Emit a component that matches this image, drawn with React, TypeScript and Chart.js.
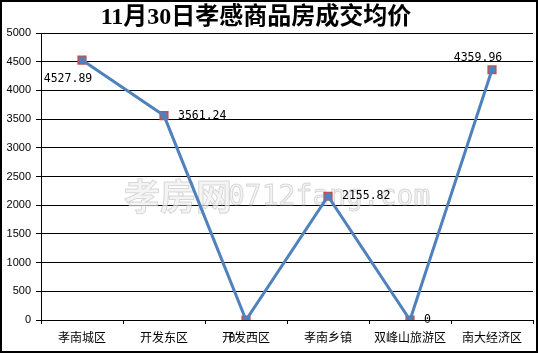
import React, { useEffect, useRef } from "react";
import { Chart, registerables } from "chart.js";

Chart.register(...registerables);

const categories = ["孝南城区", "开发东区", "开发西区", "孝南乡镇", "双峰山旅游区", "南大经济区"];
const prices = [4527.89, 3561.24, 0, 2155.82, 0, 4359.96];
const priceLabels = ["4527.89", "3561.24", "0", "2155.82", "0", "4359.96"];
const labelPlacement = ["below-left", "right", "below-left", "right", "right", "above-left"];
const titleText = "11月30日孝感商品房成交均价";

const overlayPlugin = {
  id: "overlay",
  beforeDatasetsDraw(chart: any) {
    const ctx = chart.ctx;
    ctx.save();
    ctx.textBaseline = "middle";
    ctx.textAlign = "left";
    ctx.font = "bold 36px 'Noto Sans CJK SC'";
    ctx.fillStyle = "rgba(240,240,240,0.7)";
    ctx.strokeStyle = "rgba(190,190,190,0.55)";
    ctx.lineWidth = 1;
    ctx.fillText("孝房网", 124, 196);
    ctx.strokeText("孝房网", 124, 196);
    ctx.font = "28px 'DejaVu Sans Mono'";
    ctx.fillText("0712fang.com", 228, 198);
    ctx.strokeText("0712fang.com", 228, 198);
    ctx.restore();
  },
  afterDraw(chart: any) {
    const ctx = chart.ctx;
    const xs = chart.scales.x;
    const ys = chart.scales.y;
    ctx.save();
    ctx.font = "11.5px 'DejaVu Sans Mono'";
    ctx.fillStyle = "#000";
    ctx.textBaseline = "middle";
    prices.forEach((v, i) => {
      const px = xs.getPixelForValue(i);
      const py = ys.getPixelForValue(v);
      const p = labelPlacement[i];
      const t = priceLabels[i];
      if (p === "below-left") {
        ctx.textAlign = "center";
        ctx.fillText(t, px - 14, py + 19);
      } else if (p === "right") {
        ctx.textAlign = "left";
        ctx.fillText(t, px + 14, py);
      } else {
        ctx.textAlign = "center";
        ctx.fillText(t, px - 14, py - 12);
      }
    });
    ctx.font = "bold 24px 'Liberation Serif', 'Noto Sans CJK SC'";
    ctx.textAlign = "center";
    ctx.fillStyle = "#000";
    ctx.fillText(titleText, 256, 18);
    ctx.strokeStyle = "#000";
    ctx.lineWidth = 2;
    ctx.strokeRect(1, 1, chart.width - 2, chart.height - 2);
    ctx.restore();
  },
};

export default function App() {
  const ref = useRef<HTMLCanvasElement | null>(null);
  useEffect(() => {
    if (!ref.current) return;
    const chart = new Chart(ref.current, {
      type: "line",
      data: {
        labels: categories,
        datasets: [
          {
            label: "line",
            data: prices,
            borderColor: "#4f81bd",
            borderWidth: 3,
            pointStyle: "circle",
            pointRadius: 3.5,
            pointBackgroundColor: "#4f81bd",
            pointBorderColor: "#4f81bd",
            pointBorderWidth: 0,
            tension: 0,
            order: 1,
          },
          {
            label: "marks",
            data: prices,
            showLine: false,
            pointStyle: "rect",
            pointRadius: 6.5,
            pointBackgroundColor: "#c0504d",
            pointBorderColor: "#c0504d",
            pointBorderWidth: 0,
            order: 2,
          },
        ],
      },
      options: {
        animation: false,
        responsive: false,
        devicePixelRatio: 1,
        layout: { padding: { top: 33, right: 5, left: 0, bottom: 0 }, autoPadding: false },
        plugins: { legend: { display: false }, title: { display: false }, tooltip: { enabled: false } },
        scales: {
          x: {
            offset: true,
            afterFit: (s: any) => { s.height = 33; },
            grid: { display: true, offset: true, drawOnChartArea: false, color: "#000", tickLength: 4, tickColor: "#000" },
            border: { display: true, color: "#000", width: 1 },
            ticks: { color: "#000", font: { family: "'Noto Sans CJK SC'", size: 12 }, padding: 6, maxRotation: 0, autoSkip: false },
          },
          y: {
            min: 0,
            max: 5000,
            afterFit: (s: any) => { s.width = 41; },
            grid: { color: "#000", lineWidth: 1, tickLength: 5, tickColor: "#000" },
            border: { display: true, color: "#000", width: 1 },
            ticks: {
              stepSize: 500,
              color: "#000",
              font: { family: "'Liberation Sans'", size: 11 },
              padding: 5,
              callback: (v: any) => String(v),
            },
          },
        },
      },
      plugins: [overlayPlugin],
    });
    return () => chart.destroy();
  }, []);
  return (
    <div style={{ position: "fixed", left: 0, top: 0, width: 538, height: 353, background: "#fff" }}>
      <canvas ref={ref} width={538} height={353} style={{ display: "block", width: 538, height: 353 }} />
    </div>
  );
}
